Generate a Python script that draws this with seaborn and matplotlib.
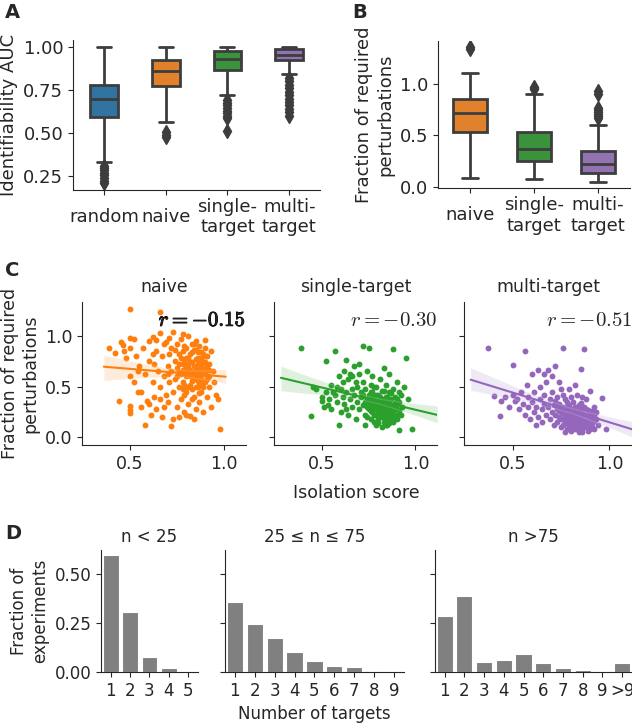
import numpy as np
import pandas as pd
import matplotlib
matplotlib.use('Agg')
import matplotlib.pyplot as plt
import matplotlib.patheffects as pe
import seaborn as sns

# ---- panel A: identifiability AUC per strategy ----
auc_groups = ['random', 'naive', 'single-\ntarget', 'multi-\ntarget']
auc_random = [0.21, 0.225, 0.24, 0.255, 0.27, 0.285, 0.30, 0.31, 0.335, 0.42, 0.50, 0.56, 0.595,
              0.60, 0.61, 0.62, 0.63, 0.64, 0.65, 0.66, 0.67, 0.675, 0.68, 0.69, 0.695,
              0.70, 0.71, 0.715, 0.72, 0.73, 0.735, 0.74, 0.75, 0.76, 0.765, 0.775, 0.78,
              0.79, 0.80, 0.82, 0.84, 0.86, 0.88, 0.90, 0.92, 0.94, 0.96, 0.98, 1.0]
auc_naive = [0.475, 0.49, 0.505, 0.565, 0.62, 0.68, 0.72, 0.75, 0.775,
             0.79, 0.80, 0.815, 0.83, 0.84, 0.85, 0.855, 0.86,
             0.865, 0.875, 0.885, 0.89, 0.90, 0.91, 0.92, 0.925,
             0.93, 0.94, 0.95, 0.96, 0.97, 0.98, 0.99, 1.0]
auc_single = [0.51, 0.585, 0.60, 0.615, 0.63, 0.645, 0.66, 0.675, 0.69, 0.72, 0.78, 0.83, 0.865,
              0.87, 0.875, 0.88, 0.89, 0.895, 0.90, 0.905, 0.91, 0.915, 0.92, 0.925, 0.93,
              0.933, 0.936, 0.94, 0.943, 0.946, 0.95, 0.955, 0.96, 0.965, 0.968, 0.972, 0.975,
              0.977, 0.979, 0.981, 0.983, 0.985, 0.987, 0.989, 0.991, 0.993, 0.995, 0.997, 1.0]
auc_multi = [0.60, 0.62, 0.64, 0.66, 0.68, 0.70, 0.72, 0.74, 0.76, 0.78, 0.80, 0.82,
             0.845, 0.87, 0.89, 0.91, 0.925,
             0.927, 0.929, 0.931, 0.933, 0.935, 0.937, 0.939, 0.941, 0.943, 0.945, 0.947,
             0.949, 0.951, 0.952, 0.954, 0.955,
             0.957, 0.96, 0.962, 0.965, 0.967, 0.97, 0.972, 0.975, 0.977, 0.979, 0.981,
             0.983, 0.985, 0.987, 0.989, 0.99,
             0.9905, 0.991, 0.9915, 0.992, 0.9925, 0.993, 0.9935, 0.994, 0.9945, 0.995,
             0.996, 0.997, 0.998, 0.999, 0.9995, 1.0]

# ---- panel B: fraction of required perturbations ----
frac_groups = ['naive', 'single-\ntarget', 'multi-\ntarget']
frac_naive = [0.08, 0.2, 0.3, 0.38, 0.43, 0.47, 0.5, 0.52, 0.53,
              0.56, 0.6, 0.63, 0.65, 0.67, 0.69, 0.71, 0.72,
              0.74, 0.76, 0.78, 0.8, 0.82, 0.835, 0.845, 0.855,
              0.88, 0.92, 0.96, 1.0, 1.05, 1.11, 1.345, 1.36]
frac_single = [0.07, 0.12, 0.16, 0.19, 0.21, 0.23, 0.24, 0.25, 0.255,
               0.27, 0.29, 0.31, 0.33, 0.34, 0.355, 0.365, 0.37,
               0.39, 0.41, 0.43, 0.45, 0.47, 0.49, 0.51, 0.53,
               0.6, 0.68, 0.75, 0.83, 0.905, 0.95, 0.96, 0.975]
frac_multi = [0.05, 0.07, 0.085, 0.095, 0.10, 0.105, 0.11, 0.115, 0.12, 0.125, 0.13, 0.132, 0.135,
              0.14, 0.15, 0.16, 0.165, 0.17, 0.18, 0.19, 0.195, 0.20, 0.21, 0.215, 0.22,
              0.23, 0.24, 0.25, 0.26, 0.27, 0.28, 0.29, 0.30, 0.31, 0.325, 0.335, 0.345,
              0.38, 0.45, 0.52, 0.6, 0.67, 0.69, 0.71, 0.73, 0.75, 0.77, 0.90, 0.93]

# ---- panel C: isolation score vs fraction of required perturbations ----
scatter_titles = ['naive', 'single-target', 'multi-target']
scatter_r = ['-0.15', '-0.30', '-0.51']
naive_pts = [
    (0.39, 0.88), (0.42, 0.83), (0.44, 0.36), (0.45, 0.94), (0.46, 0.91), (0.47, 0.85), (0.48, 0.78),
    (0.50, 1.27), (0.50, 0.98), (0.50, 0.88), (0.50, 0.60), (0.50, 0.31), (0.50, 0.27), (0.50, 0.24),
    (0.52, 0.97), (0.53, 0.80), (0.54, 0.45), (0.55, 0.70), (0.56, 0.45), (0.57, 0.88), (0.58, 0.12),
    (0.58, 0.62), (0.59, 0.36), (0.60, 0.75), (0.60, 0.33), (0.61, 0.22), (0.62, 0.99), (0.62, 0.55),
    (0.63, 0.72), (0.63, 0.40), (0.64, 0.85), (0.64, 0.28), (0.65, 0.65), (0.66, 1.24), (0.66, 1.03),
    (0.66, 0.50), (0.67, 0.80), (0.67, 0.20), (0.68, 0.92), (0.68, 0.60), (0.69, 0.94), (0.69, 0.42),
    (0.70, 0.70), (0.70, 0.35), (0.71, 0.82), (0.71, 0.55), (0.72, 0.11), (0.72, 0.65), (0.72, 0.88),
    (0.73, 1.04), (0.73, 0.45), (0.73, 0.18), (0.74, 0.75), (0.74, 0.58), (0.75, 0.92), (0.75, 0.30),
    (0.75, 0.68), (0.76, 0.82), (0.76, 0.20), (0.76, 0.50), (0.77, 0.62), (0.77, 0.97), (0.77, 0.38),
    (0.78, 0.72), (0.78, 0.85), (0.78, 0.55), (0.79, 0.25), (0.79, 0.66), (0.79, 0.90), (0.80, 0.78),
    (0.80, 0.45), (0.80, 0.60), (0.81, 0.70), (0.81, 1.00), (0.81, 0.33), (0.82, 0.82), (0.82, 0.52),
    (0.82, 0.21), (0.83, 0.63), (0.83, 0.74), (0.83, 0.92), (0.84, 0.58), (0.84, 0.40), (0.84, 0.86),
    (0.85, 0.68), (0.85, 0.77), (0.85, 0.28), (0.85, 0.95), (0.86, 0.62), (0.86, 0.50), (0.86, 0.72),
    (0.86, 0.84), (0.87, 0.66), (0.87, 0.35), (0.87, 0.90), (0.88, 0.58), (0.88, 0.78), (0.88, 0.45),
    (0.88, 0.70), (0.89, 0.62), (0.89, 0.82), (0.89, 0.25), (0.90, 0.74), (0.90, 0.55), (0.90, 0.88),
    (0.91, 0.66), (0.91, 0.40), (0.91, 0.80), (0.92, 0.60), (0.92, 0.72), (0.93, 0.30), (0.93, 0.85),
    (0.94, 0.65), (0.95, 0.55), (0.96, 0.42), (0.97, 0.38), (0.98, 0.08), (0.84, 0.18), (0.80, 0.22),
    (0.83, 0.48), (0.87, 0.52), (0.79, 0.52), (0.81, 0.63), (0.85, 0.60), (0.89, 0.68), (0.76, 0.72),
    (0.74, 0.86), (0.70, 0.62), (0.68, 0.30), (0.66, 0.38), (0.62, 0.82), (0.56, 0.30), (0.54, 0.65),
    (0.52, 0.55), (0.60, 0.95), (0.64, 0.96), (0.71, 0.98), (0.78, 1.02), (0.90, 0.96),
    (0.75, 0.60), (0.76, 0.64), (0.77, 0.78), (0.78, 0.48), (0.78, 0.66), (0.79, 0.74), (0.80, 0.68),
    (0.80, 0.88), (0.81, 0.50), (0.81, 0.78), (0.82, 0.66), (0.82, 0.74), (0.83, 0.56), (0.83, 0.84),
    (0.84, 0.70), (0.84, 0.64), (0.85, 0.50), (0.85, 0.86), (0.86, 0.56), (0.86, 0.78), (0.87, 0.60),
    (0.87, 0.74), (0.88, 0.64), (0.88, 0.84), (0.89, 0.50), (0.89, 0.74), (0.90, 0.62), (0.90, 0.80),
    (0.91, 0.58), (0.91, 0.70), (0.92, 0.66), (0.92, 0.50), (0.87, 0.44), (0.83, 0.38), (0.79, 0.42),
    (0.84, 0.92), (0.86, 0.68), (0.82, 0.60), (0.88, 0.54), (0.80, 0.72)]
single_pts = [
    (0.39, 0.88), (0.44, 0.21), (0.45, 0.50), (0.47, 0.48), (0.50, 0.40), (0.50, 0.36), (0.51, 0.30),
    (0.52, 0.75), (0.52, 0.45), (0.53, 0.32), (0.54, 0.38), (0.55, 0.52), (0.55, 0.28), (0.56, 0.45),
    (0.57, 0.85), (0.57, 0.42), (0.58, 0.35), (0.59, 0.12), (0.59, 0.60), (0.60, 0.48), (0.60, 0.25),
    (0.61, 0.55), (0.61, 0.40), (0.62, 0.65), (0.62, 0.33), (0.63, 0.76), (0.63, 0.45), (0.64, 0.58),
    (0.64, 0.22), (0.65, 0.38), (0.65, 0.62), (0.66, 0.48), (0.66, 0.30), (0.67, 0.70), (0.67, 0.42),
    (0.68, 0.55), (0.68, 0.18), (0.69, 0.35), (0.69, 0.50), (0.70, 0.62), (0.70, 0.28), (0.71, 0.45),
    (0.71, 0.40), (0.72, 0.90), (0.72, 0.32), (0.72, 0.55), (0.73, 0.12), (0.73, 0.22), (0.73, 0.48),
    (0.74, 0.38), (0.74, 0.65), (0.75, 0.88), (0.75, 0.28), (0.75, 0.42), (0.76, 0.18), (0.76, 0.35),
    (0.76, 0.52), (0.77, 0.25), (0.77, 0.45), (0.77, 0.60), (0.78, 0.30), (0.78, 0.15), (0.78, 0.40),
    (0.79, 0.22), (0.79, 0.35), (0.79, 0.50), (0.80, 0.28), (0.80, 0.42), (0.80, 0.18), (0.81, 0.32),
    (0.81, 0.58), (0.81, 0.25), (0.82, 0.38), (0.82, 0.20), (0.82, 0.46), (0.83, 0.30), (0.83, 0.15),
    (0.83, 0.68), (0.84, 0.26), (0.84, 0.40), (0.84, 0.52), (0.85, 0.22), (0.85, 0.35), (0.85, 0.12),
    (0.86, 0.30), (0.86, 0.45), (0.86, 0.62), (0.87, 0.18), (0.87, 0.38), (0.87, 0.25), (0.88, 0.87),
    (0.88, 0.32), (0.88, 0.48), (0.89, 0.20), (0.89, 0.40), (0.90, 0.28), (0.90, 0.55), (0.91, 0.35),
    (0.91, 0.07), (0.92, 0.42), (0.92, 0.22), (0.93, 0.30), (0.94, 0.50), (0.95, 0.78), (0.96, 0.38),
    (0.98, 0.08), (0.74, 0.20), (0.79, 0.12), (0.82, 0.10), (0.70, 0.72), (0.66, 0.60), (0.63, 0.28),
    (0.58, 0.50), (0.85, 0.28), (0.80, 0.36), (0.77, 0.32), (0.83, 0.24), (0.88, 0.15), (0.90, 0.18),
    (0.86, 0.20),
    (0.74, 0.30), (0.75, 0.35), (0.76, 0.26), (0.77, 0.38), (0.78, 0.22), (0.78, 0.34), (0.79, 0.28),
    (0.79, 0.42), (0.80, 0.24), (0.80, 0.32), (0.81, 0.20), (0.81, 0.40), (0.82, 0.28), (0.82, 0.34),
    (0.83, 0.36), (0.83, 0.20), (0.84, 0.32), (0.84, 0.18), (0.85, 0.40), (0.85, 0.30), (0.86, 0.24),
    (0.86, 0.36), (0.87, 0.30), (0.87, 0.44), (0.88, 0.26), (0.88, 0.22), (0.89, 0.34), (0.89, 0.30),
    (0.90, 0.22), (0.90, 0.38), (0.91, 0.26), (0.91, 0.45), (0.84, 0.12), (0.80, 0.14), (0.76, 0.45),
    (0.73, 0.35), (0.72, 0.42), (0.86, 0.14), (0.83, 0.46), (0.78, 0.50)]
multi_pts = [
    (0.37, 0.88), (0.40, 0.41), (0.43, 0.21), (0.44, 0.36), (0.46, 0.40), (0.48, 0.30), (0.50, 0.71),
    (0.50, 0.42), (0.51, 0.36), (0.52, 0.38), (0.53, 0.28), (0.54, 0.45), (0.55, 0.33), (0.56, 0.85),
    (0.56, 0.22), (0.57, 0.52), (0.58, 0.40), (0.58, 0.30), (0.59, 0.18), (0.60, 0.62), (0.60, 0.35),
    (0.61, 0.25), (0.61, 0.45), (0.62, 0.30), (0.63, 0.66), (0.63, 0.20), (0.64, 0.38), (0.64, 0.50),
    (0.65, 0.28), (0.65, 0.15), (0.66, 0.42), (0.66, 0.33), (0.67, 0.55), (0.67, 0.22), (0.68, 0.30),
    (0.68, 0.66), (0.69, 0.38), (0.69, 0.18), (0.70, 0.25), (0.70, 0.45), (0.71, 0.32), (0.71, 0.12),
    (0.72, 0.22), (0.72, 0.70), (0.73, 0.28), (0.73, 0.40), (0.73, 0.15), (0.74, 0.20), (0.74, 0.33),
    (0.75, 0.25), (0.75, 0.10), (0.75, 0.48), (0.76, 0.88), (0.76, 0.18), (0.76, 0.30), (0.77, 0.22),
    (0.77, 0.14), (0.77, 0.38), (0.78, 0.26), (0.78, 0.08), (0.78, 0.20), (0.79, 0.32), (0.79, 0.16),
    (0.79, 0.24), (0.80, 0.12), (0.80, 0.28), (0.80, 0.20), (0.81, 0.35), (0.81, 0.18), (0.81, 0.09),
    (0.82, 0.25), (0.82, 0.14), (0.82, 0.30), (0.83, 0.20), (0.83, 0.42), (0.83, 0.10), (0.84, 0.28),
    (0.84, 0.16), (0.84, 0.22), (0.85, 0.67), (0.85, 0.12), (0.85, 0.34), (0.86, 0.19), (0.86, 0.26),
    (0.86, 0.08), (0.87, 0.87), (0.87, 0.15), (0.87, 0.30), (0.88, 0.22), (0.88, 0.11), (0.88, 0.38),
    (0.89, 0.18), (0.89, 0.27), (0.90, 0.14), (0.90, 0.24), (0.90, 0.46), (0.91, 0.20), (0.91, 0.10),
    (0.92, 0.30), (0.92, 0.16), (0.93, 0.25), (0.94, 0.12), (0.96, 0.39), (0.98, 0.08), (0.79, 0.48),
    (0.74, 0.55), (0.70, 0.60), (0.82, 0.52), (0.66, 0.62), (0.62, 0.12), (0.77, 0.05), (0.84, 0.05),
    (0.89, 0.06), (0.80, 0.40), (0.86, 0.40), (0.78, 0.35), (0.72, 0.36), (0.76, 0.42),
    (0.74, 0.26), (0.75, 0.18), (0.75, 0.30), (0.76, 0.24), (0.76, 0.12), (0.77, 0.28), (0.77, 0.18),
    (0.78, 0.14), (0.78, 0.30), (0.79, 0.20), (0.79, 0.10), (0.80, 0.24), (0.80, 0.16), (0.81, 0.22),
    (0.81, 0.28), (0.82, 0.18), (0.82, 0.08), (0.83, 0.26), (0.83, 0.15), (0.84, 0.12), (0.84, 0.32),
    (0.85, 0.20), (0.85, 0.26), (0.86, 0.14), (0.86, 0.30), (0.87, 0.22), (0.87, 0.10), (0.88, 0.16),
    (0.88, 0.28), (0.89, 0.12), (0.89, 0.22), (0.90, 0.08), (0.90, 0.18), (0.91, 0.26), (0.91, 0.14),
    (0.92, 0.22), (0.92, 0.08), (0.93, 0.18), (0.80, 0.06), (0.86, 0.05)]

# ---- panel D: number of targets per experiment size ----
size_titles = ['n < 25', '25 ≤ n ≤ 75', 'n >75']
targets_small = ['1', '2', '3', '4', '5']
frac_small = [0.593, 0.307, 0.075, 0.018, 0.002]
targets_mid = ['1', '2', '3', '4', '5', '6', '7', '8', '9']
frac_mid = [0.358, 0.245, 0.175, 0.102, 0.056, 0.030, 0.026, 0.006, 0.002]
targets_large = ['1', '2', '3', '4', '5', '6', '7', '8', '9', '>9']
frac_large = [0.286, 0.384, 0.050, 0.060, 0.092, 0.046, 0.018, 0.010, 0.003, 0.048]

sns.set_style('ticks')
plt.rcParams['font.family'] = ['DejaVu Sans']
plt.rcParams['mathtext.fontset'] = 'cm'
plt.rcParams['font.size'] = 13
plt.rcParams['axes.labelsize'] = 13
plt.rcParams['xtick.labelsize'] = 13
plt.rcParams['ytick.labelsize'] = 13
plt.rcParams['axes.titlesize'] = 13

fig = plt.figure(figsize=(6.32, 7.24), dpi=100)
colors = sns.color_palette('tab10')
strategy_colors = [colors[0], colors[1], colors[2], colors[4]]
flier_style = dict(marker='d', markerfacecolor='#3d3d3d', markeredgecolor='#3d3d3d', markersize=7)

# A
df_auc = pd.DataFrame({
    'strategy': np.repeat(auc_groups, [len(auc_random), len(auc_naive), len(auc_single), len(auc_multi)]),
    'auc': auc_random + auc_naive + auc_single + auc_multi,
})
ax_a = fig.add_axes([0.1155, 0.7376, 0.391, 0.2072])
sns.boxplot(data=df_auc, x='strategy', y='auc', hue='strategy', palette=strategy_colors,
            width=0.45, linewidth=2, flierprops=flier_style, ax=ax_a, legend=False)
ax_a.set_xlabel('')
ax_a.set_ylabel('Identifiability AUC')
ax_a.set_yticks([0.25, 0.5, 0.75, 1.0])
for lbl in ax_a.get_xticklabels():
    lbl.set_va('center')
ax_a.tick_params(axis='x', pad=16)
sns.despine(ax=ax_a)

# B
df_frac = pd.DataFrame({
    'strategy': np.repeat(frac_groups, [len(frac_naive), len(frac_single), len(frac_multi)]),
    'frac': frac_naive + frac_single + frac_multi,
})
ax_b = fig.add_axes([0.693, 0.740, 0.304, 0.204])
sns.boxplot(data=df_frac, x='strategy', y='frac', hue='strategy', palette=strategy_colors[1:],
            width=0.52, linewidth=2, flierprops=flier_style, ax=ax_b, legend=False)
ax_b.set_xlabel('')
ax_b.set_ylabel('Fraction of required\nperturbations')
ax_b.set_yticks([0.0, 0.5, 1.0])
for lbl in ax_b.get_xticklabels():
    lbl.set_va('center')
ax_b.tick_params(axis='x', pad=16)
sns.despine(ax=ax_b)

# C
c_positions = [[0.130, 0.3854, 0.259, 0.1975], [0.434, 0.3854, 0.258, 0.1975], [0.734, 0.3854, 0.266, 0.1975]]
c_data = [naive_pts, single_pts, multi_pts]
c_colors = [colors[1], colors[2], colors[4]]
for i in range(3):
    ax = fig.add_axes(c_positions[i])
    pts = pd.DataFrame(c_data[i], columns=['isolation', 'frac'])
    if i > 0:
        # the fitted line of these two panels runs across the whole axis
        ax.set_xlim(0.28, 1.117)
    sns.regplot(data=pts, x='isolation', y='frac', color=c_colors[i], truncate=False,
                scatter_kws={'s': 18, 'alpha': 1, 'linewidths': 0}, line_kws={'lw': 1.5}, ax=ax)
    ax.set_xlim(0.245, 1.117)
    ax.set_ylim(-0.08, 1.34)
    ax.set_title(scatter_titles[i], pad=7, fontsize=12.5)
    ax.set_xticks([0.5, 1.0])
    ax.set_yticks([0.0, 0.5, 1.0])
    ax.tick_params(labelsize=12.5)
    ax.set_xlabel('Isolation score' if i == 1 else '', labelpad=8, fontsize=12.5)
    if i == 0:
        ax.set_ylabel('Fraction of required\nperturbations', fontsize=12.5)
    else:
        ax.set_ylabel('')
        ax.set_yticklabels([])
    txt = ax.text(1.0, 0.875, f'$r = {scatter_r[i]}$', transform=ax.transAxes,
                  ha='right', va='center', fontsize=15)
    if i == 0:
        txt.set_path_effects([pe.withStroke(linewidth=0.7, foreground='black')])
    sns.despine(ax=ax)

# D
d_positions = [[0.160, 0.0718, 0.153, 0.1685], [0.356, 0.0718, 0.283, 0.1685], [0.688, 0.0718, 0.312, 0.1685]]
d_cats = [targets_small, targets_mid, targets_large]
d_vals = [frac_small, frac_mid, frac_large]
for i in range(3):
    ax = fig.add_axes(d_positions[i])
    sns.barplot(x=d_cats[i], y=d_vals[i], color='#808080', saturation=1, width=0.82,
                edgecolor='white', linewidth=0.8, ax=ax)
    ax.set_ylim(0, 0.62)
    ax.set_yticks([0.0, 0.25, 0.5])
    ax.tick_params(labelsize=12)
    ax.set_title(size_titles[i], pad=6, fontsize=12)
    if i == 0:
        ax.set_ylabel('Fraction of\nexperiments', fontsize=12)
    else:
        ax.set_yticklabels([])
    if i == 1:
        ax.set_xlabel('Number of targets', fontsize=12)
    sns.despine(ax=ax)

for letter, x, y in [('A', 0.008, 0.996), ('B', 0.557, 0.996), ('C', 0.008, 0.640), ('D', 0.008, 0.276)]:
    fig.text(x, y, letter, fontsize=14, fontweight='bold', ha='left', va='top')

fig.savefig('out.png', dpi=100)
